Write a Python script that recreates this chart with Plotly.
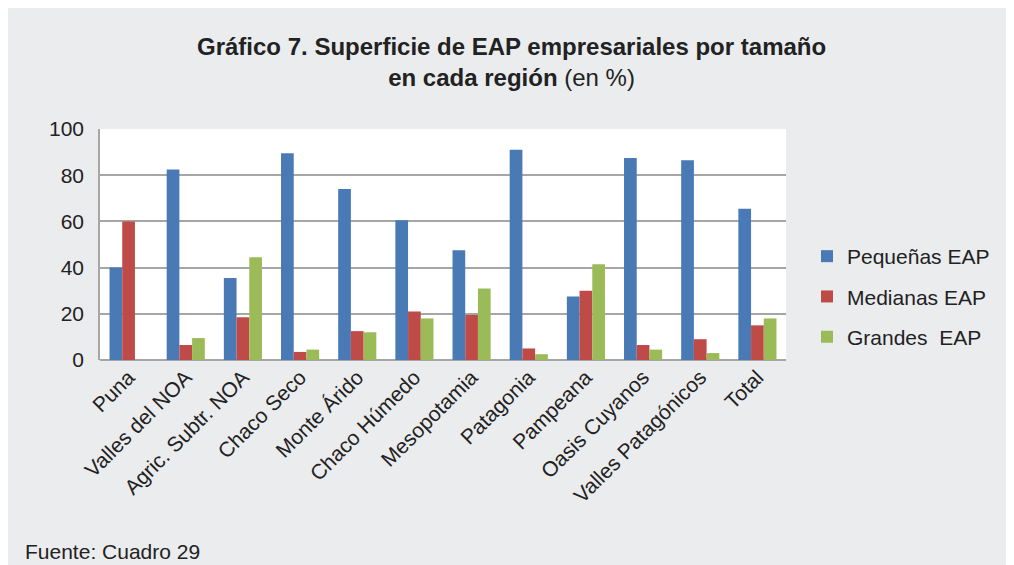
import plotly.graph_objects as go

categories = ["Puna", "Valles del NOA", "Agric. Subtr. NOA", "Chaco Seco", "Monte Árido",
              "Chaco Húmedo", "Mesopotamia", "Patagonia", "Pampeana", "Oasis Cuyanos",
              "Valles Patagónicos", "Total"]
pequenas = [40, 82.5, 35.5, 89.5, 74, 60.5, 47.5, 91, 27.5, 87.5, 86.5, 65.5]
medianas = [60, 6.5, 18.5, 3.5, 12.5, 21, 19.5, 5, 30, 6.5, 9, 15]
grandes = [0, 9.5, 44.5, 4.5, 12, 18, 31, 2.5, 41.5, 4.5, 3, 18]
series_names = ["Pequeñas EAP", "Medianas EAP", "Grandes  EAP"]
colors = ["#4A7AB5", "#BE4B48", "#9BBB59"]

OFF = 8  # page body margin
W, Hh = 1014 - OFF, 565 - OFF
ml = 100 - OFF
mr = 1014 - 786
mt = 129 - OFF
mb = 565 - 360
PW, PH = W - ml - mr, Hh - mt - mb


def px(x):
    return (x - OFF - ml) / PW


def py(y):
    return (Hh - mb - (y - OFF)) / PH


FONT = "Liberation Sans, Arial, sans-serif"
GRAY = "#EBECEE"
TXT = "#222222"

fig = go.Figure()
for i, (name, vals) in enumerate(zip(series_names, [pequenas, medianas, grandes])):
    fig.add_trace(go.Bar(x=categories, y=vals, name=name, marker_color=colors[i],
                         marker_line_width=0, legendgroup=str(i)))

fig.update_layout(
    width=W, height=Hh,
    margin=dict(l=ml, r=mr, t=mt, b=mb),
    paper_bgcolor=GRAY, plot_bgcolor="white",
    barmode="group", bargap=0.333, bargroupgap=0,
    font=dict(family=FONT, size=21, color=TXT),
    showlegend=True,
    legend=dict(x=px(807), y=py(236), xanchor="left", yanchor="top",
                bgcolor="rgba(0,0,0,0)", font=dict(size=21, color=TXT),
                traceorder="grouped", tracegroupgap=10, itemwidth=30),
    xaxis=dict(tickangle=-45, showgrid=False, showline=False, ticks="",
               tickfont=dict(size=21, color=TXT), automargin=False),
    yaxis=dict(range=[0, 100], dtick=20, showgrid=True, gridcolor="#A6A6A6", gridwidth=1.5,
               showline=True, linecolor="#A6A6A6", linewidth=1.5, ticks="",
               zeroline=True, zerolinecolor="#A6A6A6", zerolinewidth=1.5,
               ticklabelstandoff=10,
               tickfont=dict(size=21, color=TXT), automargin=False),
    annotations=[
        dict(text="<b>Gráfico 7. Superficie de EAP empresariales por tamaño</b><br><b>en cada región</b> (en %)",
             xref="paper", yref="paper", x=px(512), y=py(62), xanchor="center", yanchor="middle",
             showarrow=False, font=dict(size=24, color=TXT), align="center"),
        dict(text="Fuente: Cuadro 29", xref="paper", yref="paper", x=px(23), y=py(551),
             xanchor="left", yanchor="middle", showarrow=False,
             font=dict(size=21, color=TXT)),
    ],
)

fig.write_html("out.html")
